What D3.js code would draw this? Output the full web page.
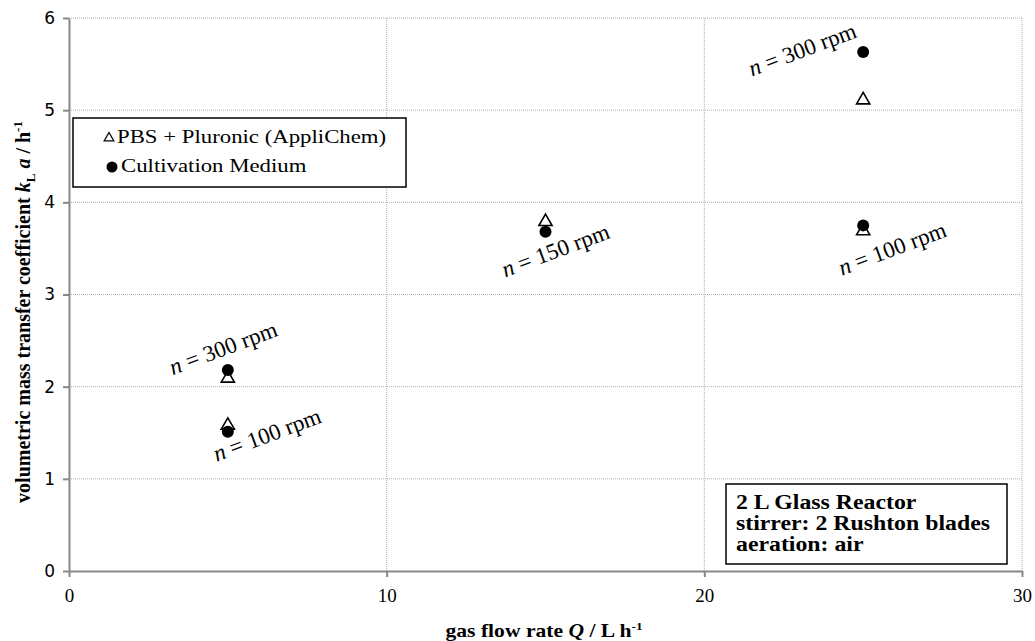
<!DOCTYPE html>
<html>
<head>
<meta charset="utf-8">
<script src="https://cdn.jsdelivr.net/npm/d3@7"></script>
<style>
  body { margin: 0; background: #fff; }
  svg { display: block; }
</style>
</head>
<body>
<div id="chart"></div>
<script>
var svgWidth = 1035;
var svgHeight = 641;

var margin = { top: 18, right: 13, bottom: 70, left: 69 };
var width = svgWidth - margin.left - margin.right;
var height = svgHeight - margin.top - margin.bottom;

// horizontal stretch of the serif text, as in the reference picture
var stretch = 1.2;
var serif = "'Liberation Serif', 'Times New Roman', serif";

// data
var flowRate = [5, 5, 15, 25, 25];
var pbsValues = [2.09, 1.58, 3.79, 5.11, 3.69];
var mediumValues = [2.18, 1.51, 3.68, 5.63, 3.75];
var xTicks = [0, 10, 20, 30];
var yTicks = [0, 1, 2, 3, 4, 5, 6];

// rpm labels: x, y in data units, and the text after "n ="
var rpmX = [4.94, 6.32, 15.4, 23.17, 26.0];
var rpmY = [2.34, 1.40, 3.40, 5.58, 3.42];
var rpmText = ["300", "100", "150", "300", "100"];

var svg = d3.select("#chart")
  .append("svg")
  .attr("width", svgWidth)
  .attr("height", svgHeight);

var chartGroup = svg.append("g")
  .attr("transform", `translate(${margin.left}, ${margin.top})`);

var xScale = d3.scaleLinear().domain([0, 30]).range([0, width]);
var yScale = d3.scaleLinear().domain([0, 6]).range([height, 0]);

// gridlines
chartGroup.append("g")
  .selectAll("line")
  .data(yTicks.slice(1))
  .enter()
  .append("line")
  .attr("x1", 0)
  .attr("x2", width)
  .attr("y1", d => yScale(d))
  .attr("y2", d => yScale(d))
  .attr("stroke", "#b0b0b0")
  .attr("stroke-width", 1)
  .attr("stroke-dasharray", "1,1");

chartGroup.append("g")
  .selectAll("line")
  .data(xTicks.slice(1))
  .enter()
  .append("line")
  .attr("x1", d => xScale(d))
  .attr("x2", d => xScale(d))
  .attr("y1", 0)
  .attr("y2", height)
  .attr("stroke", "#b0b0b0")
  .attr("stroke-width", 1)
  .attr("stroke-dasharray", "1,1");

// axes
var bottomAxis = d3.axisBottom(xScale).tickValues(xTicks).tickFormat(d3.format("d"))
  .tickSize(6).tickPadding(12).tickSizeOuter(0);
var leftAxis = d3.axisLeft(yScale).tickValues(yTicks).tickFormat(d3.format("d"))
  .tickSize(6).tickPadding(8).tickSizeOuter(0);

var xAxis = chartGroup.append("g")
  .attr("transform", `translate(0, ${height})`)
  .call(bottomAxis);
xAxis.selectAll(".tick text")
  .attr("font-family", serif)
  .attr("font-size", "19px")
  .attr("fill", "#000");

var yAxis = chartGroup.append("g").call(leftAxis);
yAxis.selectAll("text")
  .attr("font-family", "'DejaVu Sans', Verdana, sans-serif")
  .attr("font-size", "17px")
  .attr("fill", "#000");

chartGroup.selectAll(".domain, .tick line")
  .attr("stroke", "#888")
  .attr("stroke-width", 2);

// axis titles
var xLabel = svg.append("text")
  .attr("transform", `translate(${544}, 637) scale(${stretch},1)`)
  .attr("text-anchor", "middle")
  .attr("font-family", serif)
  .attr("font-weight", "bold")
  .attr("font-size", "18px");
xLabel.append("tspan").text("gas flow rate ");
xLabel.append("tspan").attr("font-style", "italic").text("Q");
xLabel.append("tspan").text(" / L h");
xLabel.append("tspan").attr("font-size", "11px").attr("dy", -7).text("-1");

var yLabel = svg.append("text")
  .attr("transform", `translate(30, 312) rotate(-90)`)
  .attr("text-anchor", "middle")
  .attr("font-family", serif)
  .attr("font-weight", "bold")
  .attr("font-size", "20px");
yLabel.append("tspan").text("volumetric mass transfer coefficient ");
yLabel.append("tspan").attr("font-style", "italic").text("k");
yLabel.append("tspan").attr("font-size", "13px").attr("dy", 5).text("L");
yLabel.append("tspan").attr("font-style", "italic").attr("dy", -5).text(" a");
yLabel.append("tspan").text(" / h");
yLabel.append("tspan").attr("font-size", "13px").attr("dy", -8).text("-1");

// rpm annotations
chartGroup.selectAll(".rpm")
  .data(rpmText)
  .enter()
  .append("text")
  .attr("class", "rpm")
  .attr("transform", (d, i) => `translate(${xScale(rpmX[i])}, ${yScale(rpmY[i])}) rotate(-20.5)`)
  .attr("text-anchor", "middle")
  .attr("font-family", serif)
  .attr("font-size", "23px")
  .each(function(d) {
    var t = d3.select(this);
    t.append("tspan").attr("font-style", "italic").text("n");
    t.append("tspan").text(" = " + d + " rpm");
  });

// triangles (PBS + Pluronic)
var triangle = d3.symbol().type(d3.symbolTriangle).size(75);
chartGroup.selectAll(".pbs")
  .data(pbsValues)
  .enter()
  .append("path")
  .attr("class", "pbs")
  .attr("d", triangle)
  .attr("transform", (d, i) => `translate(${xScale(flowRate[i])}, ${yScale(d)})`)
  .attr("fill", "#fff")
  .attr("stroke", "#000")
  .attr("stroke-width", 1.6);

// circles (cultivation medium)
chartGroup.selectAll(".medium")
  .data(mediumValues)
  .enter()
  .append("circle")
  .attr("class", "medium")
  .attr("cx", (d, i) => xScale(flowRate[i]))
  .attr("cy", d => yScale(d))
  .attr("r", 6)
  .attr("fill", "#000");

// legend box
var legend = svg.append("g").attr("transform", "translate(73, 118)");
legend.append("rect")
  .attr("width", 333)
  .attr("height", 69)
  .attr("fill", "#fff")
  .attr("stroke", "#000")
  .attr("stroke-width", 1.5);
legend.append("path")
  .attr("d", d3.symbol().type(d3.symbolTriangle).size(40))
  .attr("transform", "translate(36, 20)")
  .attr("fill", "#fff")
  .attr("stroke", "#000")
  .attr("stroke-width", 1.3);
legend.append("circle")
  .attr("cx", 39)
  .attr("cy", 49)
  .attr("r", 5.5)
  .attr("fill", "#000");
var legendLabels = ["PBS + Pluronic (AppliChem)", "Cultivation Medium"];
var legendX = [44, 48];
legend.selectAll(".lbl")
  .data(legendLabels)
  .enter()
  .append("text")
  .attr("transform", (d, i) => `translate(${legendX[i]}, ${25 + i * 29}) scale(${stretch},1)`)
  .attr("font-family", serif)
  .attr("font-size", "19px")
  .text(d => d);

// reactor info box
var info = svg.append("g").attr("transform", "translate(726, 484)");
info.append("rect")
  .attr("width", 281)
  .attr("height", 80)
  .attr("fill", "#fff")
  .attr("stroke", "#000")
  .attr("stroke-width", 1.5);
var infoLines = ["2 L Glass Reactor", "stirrer: 2 Rushton blades", "aeration: air"];
info.selectAll("text")
  .data(infoLines)
  .enter()
  .append("text")
  .attr("transform", (d, i) => `translate(10, ${25 + i * 21}) scale(1.19,1)`)
  .attr("font-family", serif)
  .attr("font-weight", "bold")
  .attr("font-size", "20px")
  .text(d => d);
</script>
</body>
</html>
